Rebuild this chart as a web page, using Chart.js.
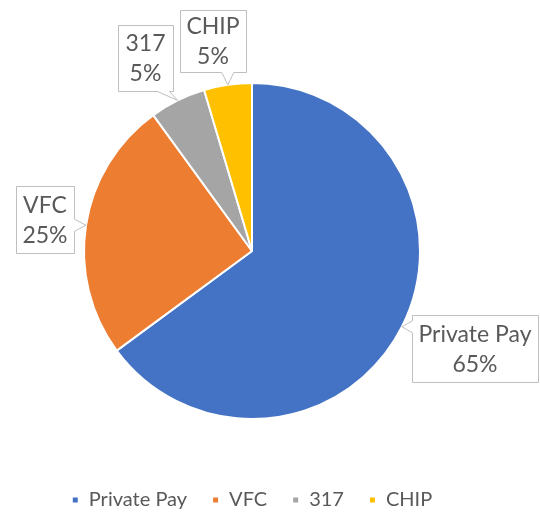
<!DOCTYPE html>
<html>
<head>
<meta charset="utf-8">
<script src="https://cdn.jsdelivr.net/npm/chart.js@4"></script>
<style>
  html, body { margin: 0; padding: 0; background: #fff; }
  #wrap { width: 540px; height: 515px; }
</style>
</head>
<body>
<div id="wrap"><canvas id="grab" width="540" height="515"></canvas></div>
<script>
const categories = ["Private Pay", "VFC", "317", "CHIP"];
const shares = [64.9, 25.1, 5.4, 4.6];
const pctLabels = ["65%", "25%", "5%", "5%"];
const colors = ["#4472C4", "#ED7D31", "#A5A5A5", "#FFC000"];

// callout boxes: left, top, width, height, side where the pointer sits
const callouts = [
    { x: 412, y: 315, w: 126, h: 67, side: "left" },
    { x: 16, y: 186, w: 58, h: 67, side: "right" },
    { x: 118, y: 25, w: 55, h: 66, side: "bottom" },
    { x: 180, y: 10, w: 66, h: 62, side: "bottom" }
];

const calloutPlugin = {
    id: "callouts",
    afterDatasetsDraw(chart) {
        const ctx = chart.ctx;
        const arcs = chart.getDatasetMeta(0).data;
        arcs.forEach((arc, i) => {
            const b = callouts[i];
            const mid = (arc.startAngle + arc.endAngle) / 2;
            const tx = arc.x + Math.cos(mid) * arc.outerRadius;
            const ty = arc.y + Math.sin(mid) * arc.outerRadius;
            const L = b.x + 0.5, T = b.y + 0.5, R = b.x + b.w + 0.5, B = b.y + b.h + 0.5;
            ctx.save();
            ctx.beginPath();
            ctx.moveTo(L, T);
            ctx.lineTo(R, T);
            if (b.side === "right") {
                const cy = Math.min(Math.max(ty, T + 10), B - 10);
                ctx.lineTo(R, cy - 6);
                ctx.lineTo(tx, ty);
                ctx.lineTo(R, cy + 6);
            }
            ctx.lineTo(R, B);
            if (b.side === "bottom") {
                const cx = Math.min(Math.max(tx, L + 10), R - 10);
                ctx.lineTo(cx + 6, B);
                ctx.lineTo(tx, ty);
                ctx.lineTo(cx - 6, B);
            }
            ctx.lineTo(L, B);
            if (b.side === "left") {
                const cy = Math.min(Math.max(ty, T + 10), B - 10);
                ctx.lineTo(L, cy + 6);
                ctx.lineTo(tx, ty);
                ctx.lineTo(L, cy - 6);
            }
            ctx.closePath();
            ctx.fillStyle = "#ffffff";
            ctx.fill();
            ctx.strokeStyle = "#BFBFBF";
            ctx.lineWidth = 1;
            ctx.stroke();

            ctx.fillStyle = "#595959";
            ctx.font = "23px Lato";
            ctx.textAlign = "center";
            ctx.textBaseline = "middle";
            const cx = b.x + b.w / 2;
            const cy = b.y + b.h / 2;
            ctx.fillText(categories[i], cx, cy - 14);
            ctx.fillText(pctLabels[i], cx, cy + 16);
            ctx.restore();
        });
    }
};

const grph = document.querySelector("#grab");

const man = new Chart(grph, {
    type: "pie",
    data: {
        labels: categories,
        datasets: [
            {
                data: shares,
                backgroundColor: colors,
                borderColor: "#ffffff",
                borderWidth: 2,
                radius: 168
            }
        ]
    },
    options: {
        responsive: false,
        animation: false,
        layout: {
            padding: { left: 0, right: 36, top: 37, bottom: -5 }
        },
        plugins: {
            tooltip: { enabled: false },
            legend: {
                position: "bottom",
                labels: {
                    boxWidth: 7,
                    boxHeight: 7,
                    padding: 25,
                    color: "#595959",
                    font: { family: "Lato", size: 20 }
                }
            }
        }
    },
    plugins: [calloutPlugin]
});
</script>
</body>
</html>
